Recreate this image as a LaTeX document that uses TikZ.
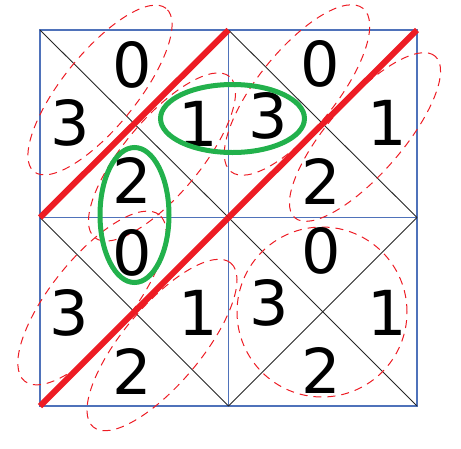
\documentclass[tikz,border=0pt]{standalone}
\usepackage{fontspec}
\setmainfont{DejaVu Sans}
\definecolor{gridblue}{RGB}{79,114,186}
\definecolor{thickred}{RGB}{237,28,36}
\definecolor{markgreen}{RGB}{34,177,76}
\tikzset{
  sq/.style={draw=gridblue, line width=1.3pt},
  diag/.style={draw=black!85, line width=0.9pt},
  cut/.style={draw=thickred, line width=6pt},
  loopd/.style={draw=thickred, line width=1pt, dash pattern=on 8pt off 6pt},
  hl/.style={draw=markgreen, line width=5pt},
  num/.style={inner sep=0pt, font=\fontsize{62}{62}\selectfont}
}
\begin{document}
\begin{tikzpicture}[x=1pt,y=-1pt]
\useasboundingbox (0,0) rectangle (461,448);
% grid points
\coordinate (g00) at (40,30);   \coordinate (g10) at (228.5,30);   \coordinate (g20) at (417,30);
\coordinate (g01) at (40,217.5); \coordinate (g11) at (228.5,217.5); \coordinate (g21) at (417,217.5);
\coordinate (g02) at (40,406);  \coordinate (g12) at (228.5,406);  \coordinate (g22) at (417,406);
% squares
\draw[sq] (g00) rectangle (g11);
\draw[sq] (g10) rectangle (g21);
\draw[sq] (g01) rectangle (g12);
\draw[sq] (g11) rectangle (g22);
% thin diagonals
\draw[diag] (g00) -- (g11);
\draw[diag] (g10) -- (g21);
\draw[diag] (g01) -- (g12);
\draw[diag] (g11) -- (g22);
\draw[diag] (g12) -- (g21);
% thick red cuts
\draw[cut] (g01) -- (g10);
\draw[cut] (g11) -- (g20);
\draw[cut] (g02) -- (g11);
% dashed loops
\coordinate (ea) at (100,90);
\coordinate (eb) at (297,90);
\coordinate (ec) at (365,137);
\coordinate (ed) at (162,157);
\coordinate (ee) at (92,298);
\coordinate (ef) at (162,345);
\coordinate (eg) at (322,312);
\draw[loopd, rotate around={51:(ea)}] (ea) ellipse [x radius=105pt, y radius=37pt];
\draw[loopd, rotate around={51:(eb)}] (eb) ellipse [x radius=105pt, y radius=39pt];
\draw[loopd, rotate around={49:(ec)}] (ec) ellipse [x radius=107pt, y radius=37pt];
\draw[loopd, rotate around={50:(ed)}] (ed) ellipse [x radius=105pt, y radius=38pt];
\draw[loopd, rotate around={51:(ee)}] (ee) ellipse [x radius=107pt, y radius=40pt];
\draw[loopd, rotate around={50:(ef)}] (ef) ellipse [x radius=107pt, y radius=39pt];
\draw[loopd] (eg) circle [radius=85pt];
% numbers
\node[num] (tl0) at (132.5,64.5) {0};
\node[num] (tl3) at (70,123) {3};
\node[num] (tl1) at (198,124) {1};
\node[num] (tl2) at (132,180.5) {2};
\node[num] (tr0) at (320,63.5) {0};
\node[num] (tr3) at (268.5,115.5) {3};
\node[num] (tr1) at (387,123) {1};
\node[num] (tr2) at (321.5,181.5) {2};
\node[num] (bl0) at (132,252.5) {0};
\node[num] (bl3) at (69,312.5) {3};
\node[num] (bl1) at (198,313) {1};
\node[num] (bl2) at (132,371.5) {2};
\node[num] (br0) at (321,250.5) {0};
\node[num] (br3) at (269,302.5) {3};
\node[num] (br1) at (387,313) {1};
\node[num] (br2) at (321.5,370.5) {2};
% green highlights
\coordinate (ga) at (232.5,118.5);
\coordinate (gb) at (134.5,215);
\draw[hl] (ga) ellipse [x radius=72pt, y radius=34pt];
\draw[hl] (gb) ellipse [x radius=34.5pt, y radius=67.5pt];
\end{tikzpicture}
\end{document}
